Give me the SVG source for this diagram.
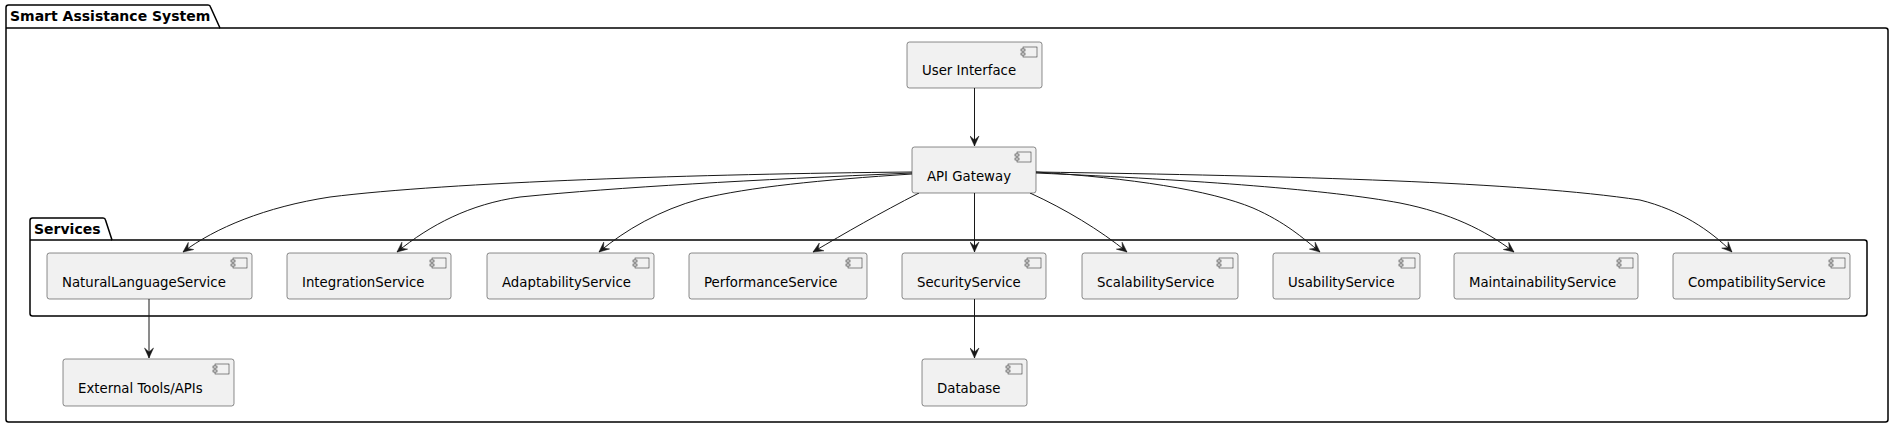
<svg xmlns="http://www.w3.org/2000/svg" width="1896" height="428" viewBox="0 0 1896 428">
<style>
.pkg{fill:none;stroke:#000;stroke-width:1.5}
.ptxt{font-family:"DejaVu Sans","Liberation Sans",sans-serif;font-size:14px;font-weight:bold;fill:#000}
.node rect.b{fill:#F1F1F1;stroke:#181818;stroke-width:0.5}
.ntxt{font-family:"DejaVu Sans","Liberation Sans",sans-serif;font-size:13.3px;fill:#000}
.edge{fill:none;stroke:#181818;stroke-width:1;marker-end:url(#arr)}
</style>
<defs>
<marker id="arr" markerUnits="userSpaceOnUse" markerWidth="12" markerHeight="10" viewBox="-11 -5 12 10" refX="0" refY="0" orient="auto">
<path d="M0,0 L-10,-4.5 L-6,0 L-10,4.5 Z" fill="#181818" stroke="#181818" stroke-width="0.5"/>
</marker>
<g id="icon">
<rect x="-19" y="5" width="14" height="10" fill="#F1F1F1" stroke="#181818" stroke-width="0.5"/>
<rect x="-21" y="7" width="4" height="2" fill="#F1F1F1" stroke="#181818" stroke-width="0.5"/>
<rect x="-21" y="11" width="4" height="2" fill="#F1F1F1" stroke="#181818" stroke-width="0.5"/>
</g>
</defs>

<g id="pkg-smart">
<path class="pkg" d="M8.5,5 L208,5 A2.5,2.5 0 0 1 210.5,7 L220,28 L1885.5,28 A2.5,2.5 0 0 1 1888,30.5 L1888,419.5 A2.5,2.5 0 0 1 1885.5,422 L8.5,422 A2.5,2.5 0 0 1 6,419.5 L6,7.5 A2.5,2.5 0 0 1 8.5,5 Z"/>
<line class="pkg" x1="6" y1="28" x2="220" y2="28"/>
<text class="ptxt" x="10" y="21">Smart Assistance System</text>
</g>

<g id="pkg-services">
<path class="pkg" d="M32.5,218 L103,218 A2.5,2.5 0 0 1 105.5,220 L112,240 L1864.5,240 A2.5,2.5 0 0 1 1867,242.5 L1867,313.5 A2.5,2.5 0 0 1 1864.5,316 L32.5,316 A2.5,2.5 0 0 1 30,313.5 L30,220.5 A2.5,2.5 0 0 1 32.5,218 Z"/>
<line class="pkg" x1="30" y1="240" x2="112" y2="240"/>
<text class="ptxt" x="34" y="234">Services</text>
</g>

<g id="connectors">
<path class="edge" d="M974.5,88 L974.5,146"/>
<path class="edge" d="M912,172 C700,174 450,182 330,197 C265,207 215,228 183,252"/>
<path class="edge" d="M912,173 C750,180 620,187 520,197 C470,204 430,225 397,252"/>
<path class="edge" d="M912,174 C820,180 750,187 700,199 C660,210 625,230 599,252"/>
<path class="edge" d="M919,193 C880,213 845,233 813,252"/>
<path class="edge" d="M974.5,193 L974.5,252"/>
<path class="edge" d="M1030,193 C1065,209 1100,230 1127,252"/>
<path class="edge" d="M1036,172 C1130,178 1210,190 1253,208 C1285,222 1303,238 1320,252"/>
<path class="edge" d="M1036,173 C1200,180 1330,190 1400,203 C1450,213 1485,230 1514,252"/>
<path class="edge" d="M1036,172 C1300,176 1520,182 1640,200 C1680,210 1710,230 1732,252"/>
<path class="edge" d="M149,299 L149,358"/>
<path class="edge" d="M974.5,299 L974.5,358"/>
</g>

<g id="n-ui" class="node">
<rect class="b" x="907" y="42" width="135" height="46" rx="2.5"/>
<use href="#icon" x="1042" y="42"/>
<text class="ntxt" x="922" y="75">User Interface</text>
</g>
<g id="n-api" class="node">
<rect class="b" x="912" y="147" width="124" height="46" rx="2.5"/>
<use href="#icon" x="1036" y="147"/>
<text class="ntxt" x="927" y="180.5">API Gateway</text>
</g>
<g id="n-nls" class="node">
<rect class="b" x="47" y="253" width="205" height="46" rx="2.5"/>
<use href="#icon" x="252" y="253"/>
<text class="ntxt" x="62" y="286.5">NaturalLanguageService</text>
</g>
<g id="n-int" class="node">
<rect class="b" x="287" y="253" width="164" height="46" rx="2.5"/>
<use href="#icon" x="451" y="253"/>
<text class="ntxt" x="302" y="286.5">IntegrationService</text>
</g>
<g id="n-ada" class="node">
<rect class="b" x="487" y="253" width="167" height="46" rx="2.5"/>
<use href="#icon" x="654" y="253"/>
<text class="ntxt" x="502" y="286.5">AdaptabilityService</text>
</g>
<g id="n-perf" class="node">
<rect class="b" x="689" y="253" width="178" height="46" rx="2.5"/>
<use href="#icon" x="867" y="253"/>
<text class="ntxt" x="704" y="286.5">PerformanceService</text>
</g>
<g id="n-sec" class="node">
<rect class="b" x="902" y="253" width="144" height="46" rx="2.5"/>
<use href="#icon" x="1046" y="253"/>
<text class="ntxt" x="917" y="286.5">SecurityService</text>
</g>
<g id="n-scal" class="node">
<rect class="b" x="1082" y="253" width="156" height="46" rx="2.5"/>
<use href="#icon" x="1238" y="253"/>
<text class="ntxt" x="1097" y="286.5">ScalabilityService</text>
</g>
<g id="n-usa" class="node">
<rect class="b" x="1273" y="253" width="147" height="46" rx="2.5"/>
<use href="#icon" x="1420" y="253"/>
<text class="ntxt" x="1288" y="286.5">UsabilityService</text>
</g>
<g id="n-main" class="node">
<rect class="b" x="1454" y="253" width="184" height="46" rx="2.5"/>
<use href="#icon" x="1638" y="253"/>
<text class="ntxt" x="1469" y="286.5">MaintainabilityService</text>
</g>
<g id="n-comp" class="node">
<rect class="b" x="1673" y="253" width="177" height="46" rx="2.5"/>
<use href="#icon" x="1850" y="253"/>
<text class="ntxt" x="1688" y="286.5">CompatibilityService</text>
</g>
<g id="n-ext" class="node">
<rect class="b" x="63" y="359" width="171" height="47" rx="2.5"/>
<use href="#icon" x="234" y="359"/>
<text class="ntxt" x="78" y="393">External Tools/APIs</text>
</g>
<g id="n-db" class="node">
<rect class="b" x="922" y="359" width="105" height="47" rx="2.5"/>
<use href="#icon" x="1027" y="359"/>
<text class="ntxt" x="937" y="393">Database</text>
</g>
</svg>
